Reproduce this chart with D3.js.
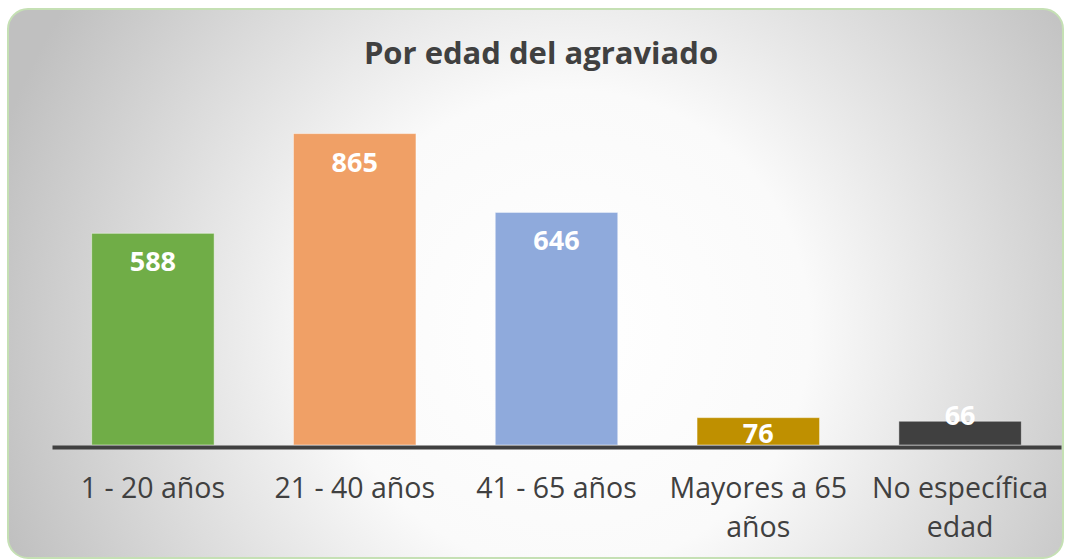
<!DOCTYPE html>
<html>
<head>
<meta charset="utf-8">
<script src="https://cdn.jsdelivr.net/npm/d3@7"></script>
<style>
  body { margin: 0; background: #ffffff; }
  svg { display: block; }
</style>
</head>
<body>
<script>
// data
var categories = ["1 - 20 años", "21 - 40 años", "41 - 65 años", "Mayores a 65 años", "No específica edad"];
var tickLines = [["1 - 20 años"], ["21 - 40 años"], ["41 - 65 años"], ["Mayores a 65", "años"], ["No específica", "edad"]];
var values = [588, 865, 646, 76, 66];
var barColors = ["#70ad47", "#f0a066", "#8faadc", "#bf9000", "#404040"];
var chartTitle = "Por edad del agraviado";

var width = 1065, height = 560;
var plot = { left: 52, right: 1061, base: 445 };

var svg = d3.select("body").append("svg")
    .attr("width", width)
    .attr("height", height);

var defs = svg.append("defs");
var grad = defs.append("radialGradient")
    .attr("id", "bg")
    .attr("gradientUnits", "userSpaceOnUse")
    .attr("cx", 570).attr("cy", 330).attr("r", 600);
grad.append("stop").attr("offset", "0").attr("stop-color", "#ffffff");
grad.append("stop").attr("offset", "0.4").attr("stop-color", "#fafafa");
grad.append("stop").attr("offset", "1").attr("stop-color", "#c0c0c0");

// chart area
svg.append("rect")
    .attr("x", 8).attr("y", 9)
    .attr("width", 1055).attr("height", 549)
    .attr("rx", 20).attr("ry", 20)
    .attr("fill", "url(#bg)")
    .attr("stroke", "#c5e0b4")
    .attr("stroke-width", 2);

svg.append("text")
    .attr("x", 541)
    .attr("y", 64)
    .attr("text-anchor", "middle")
    .style("font-family", "'Open Sans', sans-serif")
    .style("font-weight", "bold")
    .style("font-size", "31px")
    .style("fill", "#404040")
    .text(chartTitle);

var x = d3.scaleBand()
    .domain(categories)
    .range([plot.left, plot.right])
    .paddingInner(0.393)
    .paddingOuter(0.1965);

var y = d3.scaleLinear()
    .domain([0, 1000])
    .range([plot.base, plot.base - 360]);

var bars = svg.selectAll(".bar")
    .data(values)
    .enter().append("g")
    .attr("class", "bar");

bars.append("rect")
    .attr("x", function(d, i) { return x(categories[i]); })
    .attr("y", function(d) { return y(d); })
    .attr("width", x.bandwidth())
    .attr("height", function(d) { return y(0) - y(d); })
    .attr("fill", function(d, i) { return barColors[i]; })
    .attr("stroke", "rgba(255,255,255,0.45)")
    .attr("stroke-width", 1);

bars.append("text")
    .attr("x", function(d, i) { return x(categories[i]) + x.bandwidth() / 2; })
    .attr("y", function(d, i) {
        var h = y(0) - y(d);
        if (h > 40) return y(d) + 38;
        // short bars: excel pushes the label down / onto the edge
        if (i == values.length - 1) return y(d) + 4;
        return y(0) - 2;
    })
    .attr("text-anchor", "middle")
    .style("font-family", "'Open Sans', sans-serif")
    .style("font-weight", "bold")
    .style("font-size", "27px")
    .style("fill", "#ffffff")
    .text(function(d) { return d; });

// x axis
var xAxis = svg.append("g")
    .attr("transform", "translate(0," + 447 + ")")
    .call(d3.axisBottom(x).tickSize(0).tickFormat(""));
xAxis.select(".domain")
    .attr("stroke", "#404040")
    .attr("stroke-width", 4);

var ticks = svg.selectAll(".tick-label")
    .data(categories)
    .enter().append("text")
    .attr("class", "tick-label")
    .attr("x", function(d) { return x(d) + x.bandwidth() / 2; })
    .attr("y", 498)
    .attr("text-anchor", "middle")
    .style("font-family", "'Open Sans', sans-serif")
    .style("font-size", "28.5px")
    .style("fill", "#404040");

ticks.selectAll("tspan")
    .data(function(d, i) { return tickLines[i]; })
    .enter().append("tspan")
    .attr("x", function() { return d3.select(this.parentNode).attr("x"); })
    .attr("dy", function(d, i) { return i == 0 ? 0 : 39; })
    .text(function(d) { return d; });
</script>
</body>
</html>
